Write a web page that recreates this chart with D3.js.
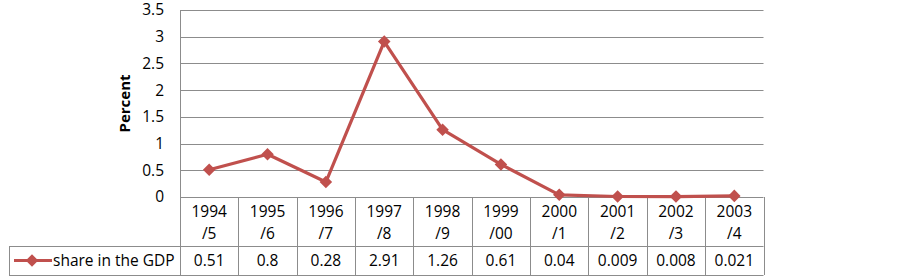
<!DOCTYPE html>
<html>
<head>
<meta charset="utf-8">
<script src="https://cdn.jsdelivr.net/npm/d3@7"></script>
<style>
  body { margin: 0; background: #fff; }
</style>
</head>
<body>
<svg id="chart" width="903" height="277"></svg>
<script>
// 数据
var years = ['1994', '1995', '1996', '1997', '1998', '1999', '2000', '2001', '2002', '2003'];
var yearEnds = ['/5', '/6', '/7', '/8', '/9', '/00', '/1', '/2', '/3', '/4'];
var shareValues = [0.51, 0.8, 0.28, 2.91, 1.26, 0.61, 0.04, 0.009, 0.008, 0.021];
var valueLabels = ['0.51', '0.8', '0.28', '2.91', '1.26', '0.61', '0.04', '0.009', '0.008', '0.021'];
var yTicks = [0, 0.5, 1, 1.5, 2, 2.5, 3, 3.5];
var seriesName = 'share in the GDP';

var svg = d3.select('#chart');
var font = 'Open Sans, Liberation Sans, Arial, sans-serif';
var fontSize = 15.5;
var gridColor = '#8c8c8c';
var lineColor = '#c0504d';

var plotLeft = 180, plotRight = 763.5, plotTop = 10, plotBottom = 197;
var headRow = 246, tableBottom = 275, legendLeft = 9;

var x = d3.scaleBand().domain(d3.range(years.length)).range([plotLeft, plotRight]);
var y = d3.scaleLinear().domain([0, 3.5]).range([plotBottom, plotTop]);

// 网格线
svg.append('g').selectAll('line')
    .data(yTicks)
    .enter()
    .append('line')
    .attr('x1', plotLeft).attr('x2', plotRight)
    .attr('y1', function (d) { return Math.round(y(d)) + 0.5; })
    .attr('y2', function (d) { return Math.round(y(d)) + 0.5; })
    .attr('stroke', gridColor)
    .attr('stroke-width', 1);

// y 轴刻度
svg.append('g').selectAll('text')
    .data(yTicks)
    .enter()
    .append('text')
    .attr('x', 164)
    .attr('y', function (d) { return y(d); })
    .attr('dy', '0.35em')
    .attr('text-anchor', 'end')
    .attr('font-family', font)
    .attr('font-size', fontSize)
    .attr('fill', '#000')
    .text(function (d) { return d; });

// y 轴标题
svg.append('text')
    .attr('transform', 'translate(130,' + ((plotTop + plotBottom) / 2) + ') rotate(-90)')
    .attr('text-anchor', 'middle')
    .attr('font-family', font)
    .attr('font-size', 15)
    .attr('font-weight', 'bold')
    .text('Percent');

// 表格线
var table = svg.append('g').attr('stroke', gridColor).attr('stroke-width', 1);
table.append('line')
    .attr('x1', plotLeft + 0.5).attr('x2', plotLeft + 0.5)
    .attr('y1', plotTop).attr('y2', tableBottom);
table.selectAll('line.col')
    .data(d3.range(1, years.length + 1))
    .enter()
    .append('line')
    .attr('class', 'col')
    .attr('x1', function (i) { return Math.round(plotLeft + i * x.bandwidth()) + 0.5; })
    .attr('x2', function (i) { return Math.round(plotLeft + i * x.bandwidth()) + 0.5; })
    .attr('y1', plotBottom).attr('y2', tableBottom);
table.append('line')
    .attr('x1', legendLeft).attr('x2', plotRight)
    .attr('y1', headRow + 0.5).attr('y2', headRow + 0.5);
table.append('line')
    .attr('x1', legendLeft).attr('x2', plotRight)
    .attr('y1', tableBottom + 0.5).attr('y2', tableBottom + 0.5);
table.append('line')
    .attr('x1', legendLeft + 0.5).attr('x2', legendLeft + 0.5)
    .attr('y1', headRow).attr('y2', tableBottom);

// 类目标签
var cats = svg.append('g')
    .attr('font-family', font)
    .attr('font-size', fontSize)
    .attr('text-anchor', 'middle');
cats.selectAll('text.yr')
    .data(years)
    .enter()
    .append('text')
    .attr('x', function (d, i) { return x(i) + x.bandwidth() / 2; })
    .attr('y', 217)
    .text(function (d) { return d; });
cats.selectAll('text.end')
    .data(yearEnds)
    .enter()
    .append('text')
    .attr('x', function (d, i) { return x(i) + x.bandwidth() / 2; })
    .attr('y', 238.5)
    .text(function (d) { return d; });
cats.selectAll('text.val')
    .data(valueLabels)
    .enter()
    .append('text')
    .attr('x', function (d, i) { return x(i) + x.bandwidth() / 2; })
    .attr('y', 266)
    .text(function (d) { return d; });

// 折线
var line = d3.line()
    .x(function (d, i) { return x(i) + x.bandwidth() / 2; })
    .y(function (d) { return y(d); });
svg.append('path')
    .datum(shareValues)
    .attr('d', line)
    .attr('fill', 'none')
    .attr('stroke', lineColor)
    .attr('stroke-width', 3.2)
    .attr('stroke-linejoin', 'round');

var diamond = d3.symbol().type(d3.symbolDiamond2).size(100);
svg.append('g').selectAll('path')
    .data(shareValues)
    .enter()
    .append('path')
    .attr('d', diamond)
    .attr('transform', function (d, i) {
        return 'translate(' + (x(i) + x.bandwidth() / 2) + ',' + y(d) + ')';
    })
    .attr('fill', lineColor);

// 图例
svg.append('line')
    .attr('x1', 14).attr('x2', 52)
    .attr('y1', 260.5).attr('y2', 260.5)
    .attr('stroke', lineColor)
    .attr('stroke-width', 3.2);
svg.append('path')
    .attr('d', diamond)
    .attr('transform', 'translate(32,260.5)')
    .attr('fill', lineColor);
svg.append('text')
    .attr('x', 53)
    .attr('y', 266)
    .attr('font-family', font)
    .attr('font-size', fontSize)
    .text(seriesName);
</script>
</body>
</html>
